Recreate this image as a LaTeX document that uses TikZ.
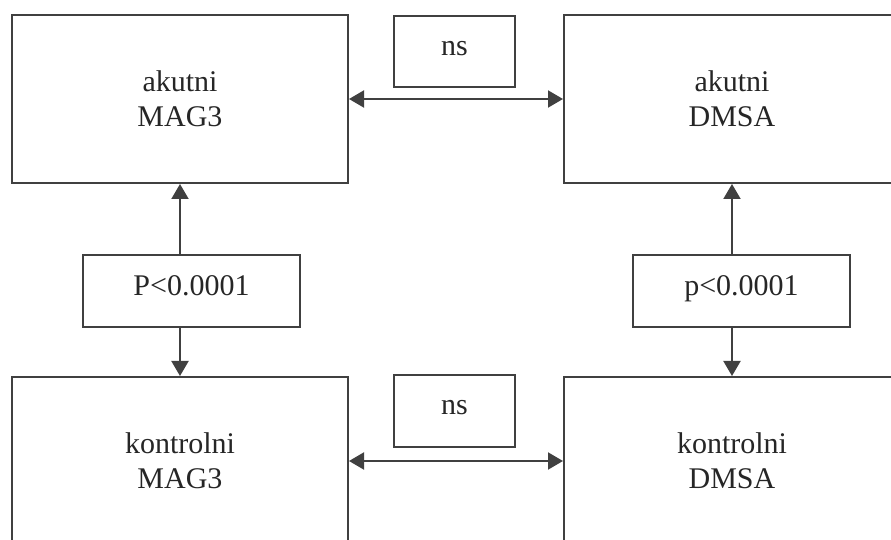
\documentclass[tikz,border=0pt]{standalone}
\usepackage{fontspec}
\setmainfont{Liberation Serif}
\usetikzlibrary{arrows.meta,positioning}

\begin{document}
\begin{tikzpicture}[x=0.5pt,y=-0.5pt,>={Triangle[length=7.5pt,width=8.5pt]},line width=1pt,draw=black!75]
\tikzstyle{box}=[draw=black!75, line width=1pt, text=black!85, align=center, inner sep=0pt, font=\fontsize{15}{17.5}\selectfont]
\tikzstyle{big}=[box, minimum width=168pt, minimum height=84pt]
\tikzstyle{small}=[box, text depth=5pt]
\useasboundingbox (0,0) rectangle (891,540);
\clip (0,0) rectangle (891,540);
\node[big] (akMAG) at (180,99) {akutni\\MAG3};
\node[big, right=107pt of akMAG] (akDMSA) {akutni\\DMSA};
\node[big, below=96pt of akMAG] (koMAG) {kontrolni\\MAG3};
\node[big, right=107pt of koMAG] (koDMSA) {kontrolni\\DMSA};
\node[small, text depth=3.5pt, minimum width=60.5pt, minimum height=35.5pt] (nsTop) at (454.5,51.5) {ns};
\node[small, text depth=3.5pt, minimum width=60.5pt, minimum height=36pt] (nsBot) at (454.5,411) {ns};
\node[small, minimum width=108.5pt, minimum height=36pt] (pMAG) at (191.5,291) {P<0.0001};
\node[small, minimum width=108.5pt, minimum height=36pt] (pDMSA) at (741.5,291) {p<0.0001};
\draw[<->, black!75] (akMAG) -- (akDMSA);
\draw[<->, black!75] (koMAG) -- (koDMSA);
\draw[->, black!75] (pMAG.north -| akMAG.south) -- (akMAG.south);
\draw[->, black!75] (pMAG.south -| koMAG.north) -- (koMAG.north);
\draw[->, black!75] (pDMSA.north -| akDMSA.south) -- (akDMSA.south);
\draw[->, black!75] (pDMSA.south -| koDMSA.north) -- (koDMSA.north);
\end{tikzpicture}
\end{document}
